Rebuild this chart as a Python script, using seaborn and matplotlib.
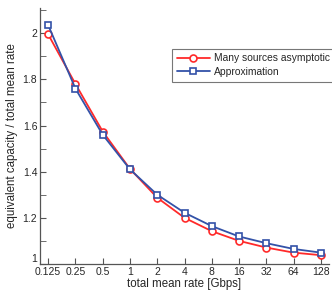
import numpy as np
import pandas as pd
import matplotlib
matplotlib.use('Agg')
import matplotlib.pyplot as plt
import seaborn as sns
from matplotlib.ticker import FixedLocator, MultipleLocator

# ── Data ──────────────────────────────────────────────────────────────────────
rates = [0.125, 0.25, 0.5, 1, 2, 4, 8, 16, 32, 64, 128]
rate_labels = ['0.125', '0.25', '0.5', '1', '2', '4', '8', '16', '32', '64', '128']
many_sources = [1.995, 1.78, 1.574, 1.412, 1.287, 1.200, 1.142, 1.100, 1.071, 1.049, 1.038]
approximation = [2.035, 1.76, 1.560, 1.410, 1.300, 1.222, 1.164, 1.119, 1.090, 1.065, 1.049]

df = pd.DataFrame({'rate': rates, 'many': many_sources, 'approx': approximation})

# ── Plot ──────────────────────────────────────────────────────────────────────
sns.set_style('ticks')
plt.rcParams['font.family'] = ['Liberation Sans', 'DejaVu Sans']

fig = plt.figure(figsize=(3.32, 2.91), dpi=100)
ax = fig.add_axes([0.1205, 0.093, 0.8705, 0.88])

red = '#ff2a2a'
blue = '#3352a8'
sns.lineplot(data=df, x='rate', y='many', ax=ax, color=red, marker='o', markersize=5,
             markerfacecolor='white', markeredgecolor=red, markeredgewidth=1.2,
             linewidth=1.3, label='Many sources asymptotic')
sns.lineplot(data=df, x='rate', y='approx', ax=ax, color=blue, marker='s', markersize=5,
             markerfacecolor='white', markeredgecolor=blue, markeredgewidth=1.2,
             linewidth=1.3, label='Approximation')

ax.set_xscale('log', base=2)
ax.set_xlim(0.125 * 2 ** -0.3, 128 * 2 ** 0.3)
ax.set_ylim(1, 2.11)
ax.xaxis.set_major_locator(FixedLocator(rates))
ax.set_xticklabels(rate_labels)
ax.xaxis.set_minor_locator(FixedLocator([]))
ax.yaxis.set_major_locator(FixedLocator([1, 1.2, 1.4, 1.6, 1.8, 2]))
ax.yaxis.set_minor_locator(MultipleLocator(0.1))
ax.set_yticklabels(['1', '1.2', '1.4', '1.6', '1.8', '2'])
ax.get_yticklabels()[0].set_verticalalignment('bottom')

ax.tick_params(axis='both', which='both', direction='in', labelsize=7.5,
               color='#555555', pad=2)
ax.tick_params(which='major', length=4)
ax.tick_params(which='minor', length=4)
for s in ['top', 'right']:
    ax.spines[s].set_visible(False)
for s in ['left', 'bottom']:
    ax.spines[s].set_color('#555555')
    ax.spines[s].set_linewidth(0.9)

ax.set_xlabel('total mean rate [Gbps]', fontsize=8.3, labelpad=1)
ax.set_ylabel('equivalent capacity / total mean rate', fontsize=8.3, labelpad=3)

leg = ax.legend(loc='upper left', bbox_to_anchor=(0.457, 0.84), fontsize=7.4,
                frameon=True, fancybox=False, edgecolor='#555555',
                borderpad=0.45, labelspacing=0.35, handlelength=3.2,
                handletextpad=0.4, borderaxespad=0)
leg.get_frame().set_linewidth(0.8)

fig.savefig('out.png', dpi=100)
